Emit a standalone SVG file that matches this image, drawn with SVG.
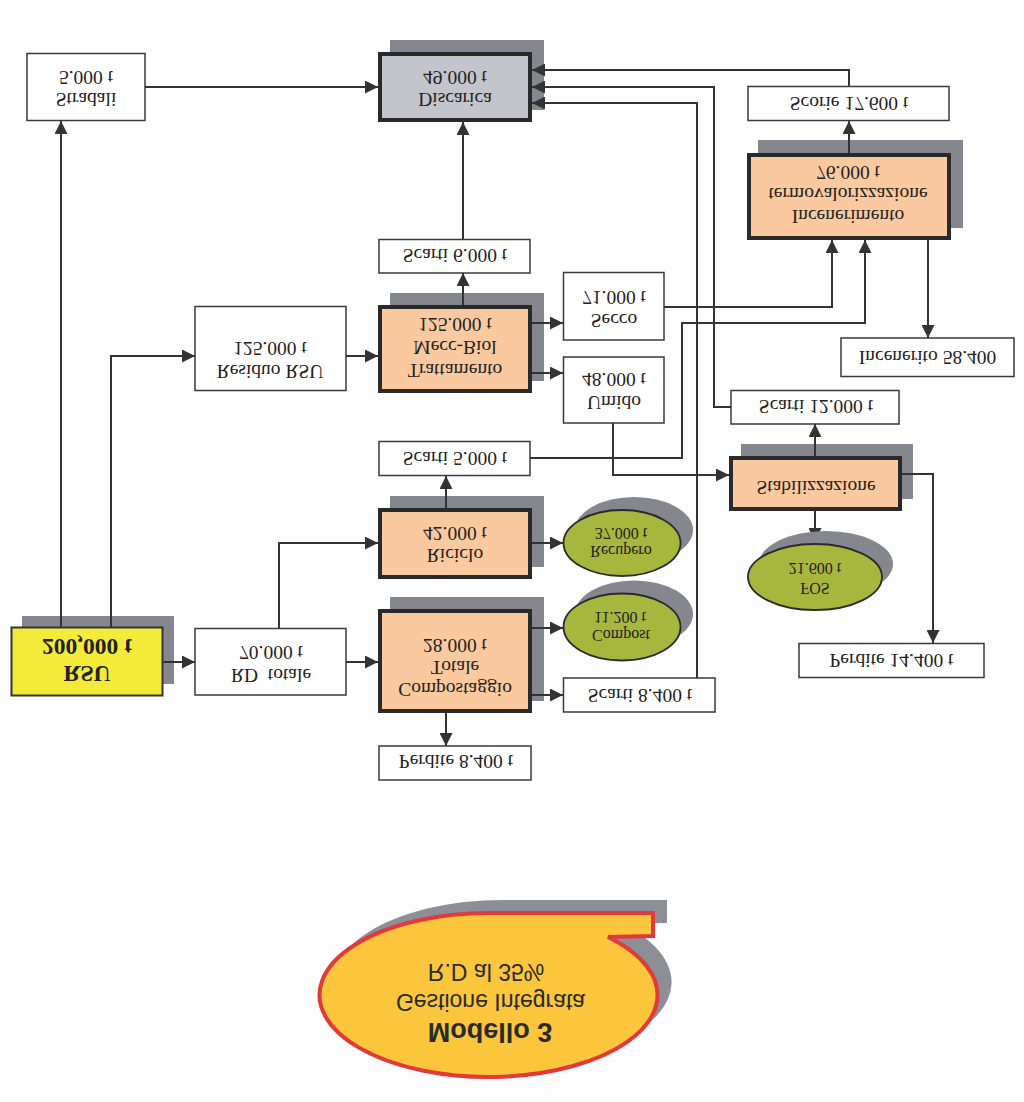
<svg xmlns="http://www.w3.org/2000/svg" width="1024" height="1102" viewBox="0 0 1024 1102">
<defs>
<marker id="ah" markerWidth="13" markerHeight="13" refX="13" refY="6.5" orient="auto" markerUnits="userSpaceOnUse">
<path d="M0,0 L13,6.5 L0,13 z" fill="#333"/>
</marker>
<style>
.t{font-family:"Liberation Serif","Times New Roman",serif;font-size:19.5px;fill:#222;text-anchor:middle;dominant-baseline:central}
.ts{font-size:16px}
.tb{font-weight:bold;font-size:23.5px}
.c{font-family:"Liberation Sans",Arial,sans-serif;font-size:23px;fill:#2a2a2a;text-anchor:middle;dominant-baseline:central}
.cb{font-weight:bold;font-size:27px}
.sh{fill:#86868f}
.wb{fill:#fff;stroke:#3a3a3a;stroke-width:1.5}
.ob{fill:#fac99f;stroke:#2a2a2a;stroke-width:4}
.gb{fill:#c4c4cc;stroke:#2a2a2a;stroke-width:4}
.el{fill:#a7b73d;stroke:#2a2a2a;stroke-width:1.8}
.ln{fill:none;stroke:#333;stroke-width:2}
</style>
</defs>
<rect width="1024" height="1102" fill="#fdfdfd"/>

<g id="stradali"><rect class="wb" x="27" y="53.5" width="118" height="67"/>
<text class="t" transform="matrix(1 0 0 -1 86 77)">5.000 t</text>
<text class="t" transform="matrix(1 0 0 -1 86 99)">Stradali</text></g>

<g id="discarica"><rect class="sh" x="390" y="40" width="154" height="70"/><rect class="gb" x="380" y="54" width="150" height="66"/>
<text class="t" transform="matrix(1 0 0 -1 455 77)">49.000 t</text>
<text class="t" transform="matrix(1 0 0 -1 455 99)">Discarica</text></g>

<g id="scarti6"><rect class="wb" x="379" y="239.5" width="151" height="33.5"/>
<text class="t" transform="matrix(1 0 0 -1 455 255)">Scarti 6.000 t</text></g>

<g id="trattamento"><rect class="sh" x="390" y="293" width="154" height="88"/><rect class="ob" x="380" y="307" width="150" height="84"/>
<text class="t" transform="matrix(1 0 0 -1 455 324)">125.000 t</text>
<text class="t" transform="matrix(1 0 0 -1 455 347)">Mecc-Biol</text>
<text class="t" transform="matrix(1 0 0 -1 455 370)">Trattamento</text></g>

<g id="residuo"><rect class="wb" x="195" y="306.5" width="151" height="84"/>
<text class="t" transform="matrix(1 0 0 -1 270 348)">125.000 t</text>
<text class="t" transform="matrix(1 0 0 -1 270 371)">Residuo RSU</text></g>

<g id="secco"><rect class="wb" x="563.5" y="272.5" width="100.5" height="67.5"/>
<text class="t" transform="matrix(1 0 0 -1 614 297)">71.000 t</text>
<text class="t" transform="matrix(1 0 0 -1 614 320)">Secco</text></g>

<g id="umido"><rect class="wb" x="563.5" y="357" width="100.5" height="66"/>
<text class="t" transform="matrix(1 0 0 -1 614 379)">48.000 t</text>
<text class="t" transform="matrix(1 0 0 -1 614 402)">Umido</text></g>

<g id="scorie"><rect class="wb" x="748" y="86.5" width="201" height="34"/>
<text class="t" transform="matrix(1 0 0 -1 849 103)">Scorie 17.600 t</text></g>

<g id="incenerimento"><rect class="sh" x="758" y="140" width="205" height="88"/><rect class="ob" x="749" y="155" width="200" height="83"/>
<text class="t" transform="matrix(1 0 0 -1 848 172)">76.000 t</text>
<text class="t" transform="matrix(1 0 0 -1 848 194)">termovalorizzazione</text>
<text class="t" transform="matrix(1 0 0 -1 848 216)">Incenerimento</text></g>

<g id="incenerito"><rect class="wb" x="841" y="338" width="173" height="38.5"/>
<text class="t" transform="matrix(1 0 0 -1 927.5 357)">Incenerito 58.400</text></g>

<g id="scarti12"><rect class="wb" x="731" y="390.5" width="168" height="33.5"/>
<text class="t" transform="matrix(1 0 0 -1 816 406)">Scarti 12.000 t</text></g>

<g id="stabilizzazione"><rect class="sh" x="741" y="444" width="172" height="55"/><rect class="ob" x="731" y="458" width="169" height="51"/>
<text class="t" transform="matrix(1 0 0 -1 816 487)">Stabilizzazione</text></g>

<g id="perdite14"><rect class="wb" x="799" y="643.5" width="185" height="34"/>
<text class="t" transform="matrix(1 0 0 -1 891.5 660)">Perdite 14.400 t</text></g>

<g id="scarti5"><rect class="wb" x="379" y="441.5" width="151" height="34"/>
<text class="t" transform="matrix(1 0 0 -1 455 458)">Scarti 5.000 t</text></g>

<g id="riciclo"><rect class="sh" x="390" y="496" width="154" height="71"/><rect class="ob" x="380" y="510" width="150" height="67"/>
<text class="t" transform="matrix(1 0 0 -1 455 533)">42.000 t</text>
<text class="t" transform="matrix(1 0 0 -1 455 555)">Riciclo</text></g>

<g id="recupero"><ellipse class="sh" cx="634" cy="530" rx="59" ry="33"/><ellipse class="el" cx="622" cy="543" rx="58.5" ry="33"/>
<text class="t ts" transform="matrix(1 0 0 -1 621 533)">37.000 t</text>
<text class="t ts" transform="matrix(1 0 0 -1 621 551)">Recupero</text></g>

<g id="compost"><ellipse class="sh" cx="634" cy="614" rx="59" ry="33.5"/><ellipse class="el" cx="622" cy="627" rx="58.5" ry="33.5"/>
<text class="t ts" transform="matrix(1 0 0 -1 620 617)">11.200 t</text>
<text class="t ts" transform="matrix(1 0 0 -1 621 635)">Compost</text></g>

<g id="rsu"><rect class="sh" x="22" y="616" width="152" height="68"/><rect x="11.5" y="627.5" width="151" height="68" fill="#f3ea3a" stroke="#333" stroke-width="2"/>
<text class="t tb" transform="matrix(1 0 0 -1 87 647)">200,000 t</text>
<text class="t tb" transform="matrix(1 0 0 -1 87 674)">RSU</text></g>

<g id="rdtotale"><rect class="wb" x="195" y="628.5" width="151" height="66.5"/>
<text class="t" transform="matrix(1 0 0 -1 271 652)">70.000 t</text>
<text class="t" transform="matrix(1 0 0 -1 271 675)">RD&#160; totale</text></g>

<g id="compostaggio"><rect class="sh" x="390" y="597" width="154" height="104"/><rect class="ob" x="380" y="611" width="150" height="100"/>
<text class="t" transform="matrix(1 0 0 -1 455 645)">28.000 t</text>
<text class="t" transform="matrix(1 0 0 -1 455 667)">Totale</text>
<text class="t" transform="matrix(1 0 0 -1 455 689)">Compostaggio</text></g>

<g id="scarti8"><rect class="wb" x="563.5" y="678" width="151.5" height="34"/>
<text class="t" transform="matrix(1 0 0 -1 640 695)">Scarti 8.400 t</text></g>

<g id="perdite8"><rect class="wb" x="379" y="746" width="152" height="34"/>
<text class="t" transform="matrix(1 0 0 -1 456 761)">Perdite 8.400 t</text></g>

<g id="connectors" class="ln">
<path class="ln" d="M61 627 V121" marker-end="url(#ah)"/>
<path class="ln" d="M111 627 V356 H195" marker-end="url(#ah)"/>
<path class="ln" d="M145 87 H378" marker-end="url(#ah)"/>
<path class="ln" d="M346 356 H378" marker-end="url(#ah)"/>
<path class="ln" d="M463 305 V273" marker-end="url(#ah)"/>
<path class="ln" d="M463 239 V122" marker-end="url(#ah)"/>
<path class="ln" d="M532 323 H563" marker-end="url(#ah)"/>
<path class="ln" d="M532 373 H563" marker-end="url(#ah)"/>
<path class="ln" d="M664 307 H832 V240" marker-end="url(#ah)"/>
<path class="ln" d="M530 458 H682 V323 H865 V240" marker-end="url(#ah)"/>
<path class="ln" d="M613 423 V475 H729" marker-end="url(#ah)"/>
<path class="ln" d="M849 153 V121" marker-end="url(#ah)"/>
<path class="ln" d="M849 86 V70 H532" marker-end="url(#ah)"/>
<path class="ln" d="M928 240 V338" marker-end="url(#ah)"/>
<path class="ln" d="M815 456 V424" marker-end="url(#ah)"/>
<path class="ln" d="M731 407 H714 V87 H532" marker-end="url(#ah)"/>
<path class="ln" d="M697 678 V103 H532" marker-end="url(#ah)"/>
<path class="ln" d="M902 474 H933 V643" marker-end="url(#ah)"/>
<path class="ln" d="M163 662 H195" marker-end="url(#ah)"/>
<path class="ln" d="M346 662 H378" marker-end="url(#ah)"/>
<path class="ln" d="M279 628 V543 H378" marker-end="url(#ah)"/>
<path class="ln" d="M446 508 V476" marker-end="url(#ah)"/>
<path class="ln" d="M532 543 H563" marker-end="url(#ah)"/>
<path class="ln" d="M532 628 H563" marker-end="url(#ah)"/>
<path class="ln" d="M532 695 H563" marker-end="url(#ah)"/>
<path class="ln" d="M446 713 V746" marker-end="url(#ah)"/>
<path class="ln" d="M815 511 V541" marker-end="url(#ah)"/>
</g>

<g id="fos"><ellipse class="sh" cx="826" cy="564" rx="67" ry="33"/><ellipse class="el" cx="815" cy="577" rx="67" ry="33"/>
<text class="t ts" transform="matrix(1 0 0 -1 815 568)">21.600 t</text>
<text class="t ts" transform="matrix(1 0 0 -1 815 588)">FOS</text></g>

<g id="modello">
<path d="M503 900 L667 900 L667 923 L622 924 A169 82 0 1 1 503 900 Z" fill="#8e8e96"/>
<path d="M489 913 L653 913 L653 936 L608 937 A169 82 0 1 1 489 913 Z" fill="#fbc63b" stroke="#e2393b" stroke-width="4" stroke-linejoin="miter"/>
<text class="c" transform="matrix(1 0 0 -1 486 972)">R.D al 35%</text>
<text class="c" transform="matrix(1 0 0 -1 490.5 1002)">Gestione Integrata</text>
<text class="c cb" transform="matrix(1 0 0 -1 490 1032)">Modello 3</text>
</g>
</svg>
